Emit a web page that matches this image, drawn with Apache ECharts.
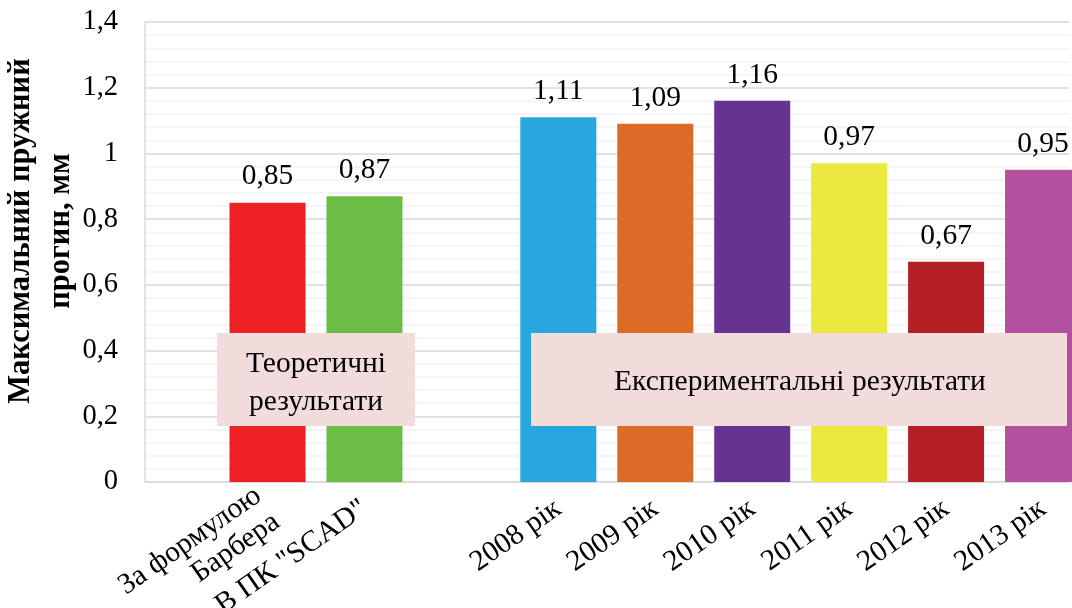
<!DOCTYPE html>
<html>
<head>
<meta charset="utf-8">
<script src="https://cdn.jsdelivr.net/npm/echarts@6/dist/echarts.min.js"></script>
<style>
  html, body { margin: 0; padding: 0; background: #fff; }
  #chart { width: 1072px; height: 608px; }
</style>
</head>
<body>
<div id="chart"></div>
<script>
// категорії (третя - порожній проміжок між групами)
var categories = ['За формулою\nБарбера', 'В ПК "SCAD"', '', '2008 рік', '2009 рік', '2010 рік', '2011 рік', '2012 рік', '2013 рік'];
var values = [0.85, 0.87, null, 1.11, 1.09, 1.16, 0.97, 0.67, 0.95];
var yTicks = [0, 0.2, 0.4, 0.6, 0.8, 1, 1.2, 1.4];

var barColors = ['#ED2024', '#6BBD45', null, '#28A7DF', '#DB6B26', '#673391', '#EBE93F', '#B31F24', '#B4519F'];

var font = 'Liberation Serif, Times New Roman, serif';

function comma(v) {
  return String(Math.round(v * 100) / 100).replace('.', ',');
}

var chart = echarts.init(document.getElementById('chart'));

var barData = [];
values.forEach(function (v, i) {
  if (v === null) return;
  barData.push({
    value: [i + 1, v],
    itemStyle: { color: barColors[i] }
  });
});

var option = {
  backgroundColor: '#fff',
  animation: false,
  grid: {
    left: 145,
    right: 3,
    top: 22,
    bottom: 126,
    outerBoundsMode: 'none'
  },
  xAxis: {
    type: 'value',
    min: -0.264,
    max: 9.268,
    splitLine: { show: false },
    axisTick: { show: false },
    axisLine: {
      show: true,
      lineStyle: { color: '#D9D9D9', width: 1.5 }
    },
    axisLabel: {
      customValues: categories.map(function (c, i) { return i + 1; }),
      formatter: function (v) { return categories[v - 1] || ''; },
      rotate: 35,
      margin: 24,
      fontFamily: font,
      fontSize: 29.5,
      lineHeight: 32,
      color: '#000'
    }
  },
  yAxis: {
    type: 'value',
    min: yTicks[0],
    max: yTicks[yTicks.length - 1],
    interval: 0.2,
    axisLine: {
      show: true,
      onZero: false,
      lineStyle: { color: '#D9D9D9', width: 1.5 }
    },
    axisTick: { show: false },
    axisLabel: {
      margin: 27,
      fontFamily: font,
      fontSize: 28.5,
      color: '#000',
      formatter: comma
    },
    splitLine: {
      lineStyle: { color: '#D9D9D9', width: 1.5 }
    },
    minorTick: { show: false, splitNumber: 5 },
    minorSplitLine: {
      show: true,
      lineStyle: { color: '#F2F2F2', width: 1.5 }
    }
  },
  series: [{
    type: 'bar',
    barWidth: 76,
    data: barData,
    label: {
      show: true,
      position: 'top',
      distance: 11,
      fontFamily: font,
      fontSize: 29.5,
      color: '#000',
      formatter: function (p) { return comma(p.value[1]); }
    }
  }],
  graphic: [
    {
      type: 'text',
      x: 41,
      y: 231,
      rotation: Math.PI / 2,
      style: {
        text: 'Максимальний пружний\nпрогин, мм',
        fontFamily: font,
        fontWeight: 'bold',
        fontSize: 30.5,
        lineHeight: 40,
        fill: '#000',
        align: 'center',
        verticalAlign: 'middle'
      }
    },
    {
      type: 'rect',
      shape: { x: 217, y: 333, width: 198, height: 93 },
      style: { fill: '#F2DBDB' },
      z: 100
    },
    {
      type: 'text',
      x: 316,
      y: 383,
      style: {
        text: 'Теоретичні\nрезультати',
        fontFamily: font,
        fontSize: 29.5,
        lineHeight: 38,
        fill: '#000',
        align: 'center',
        verticalAlign: 'middle'
      },
      z: 101
    },
    {
      type: 'rect',
      shape: { x: 531, y: 333, width: 536, height: 93 },
      style: { fill: '#F2DBDB' },
      z: 100
    },
    {
      type: 'text',
      x: 800,
      y: 382,
      style: {
        text: 'Експериментальні результати',
        fontFamily: font,
        fontSize: 29.5,
        fill: '#000',
        align: 'center',
        verticalAlign: 'middle'
      },
      z: 101
    }
  ]
};

chart.setOption(option);
</script>
</body>
</html>
